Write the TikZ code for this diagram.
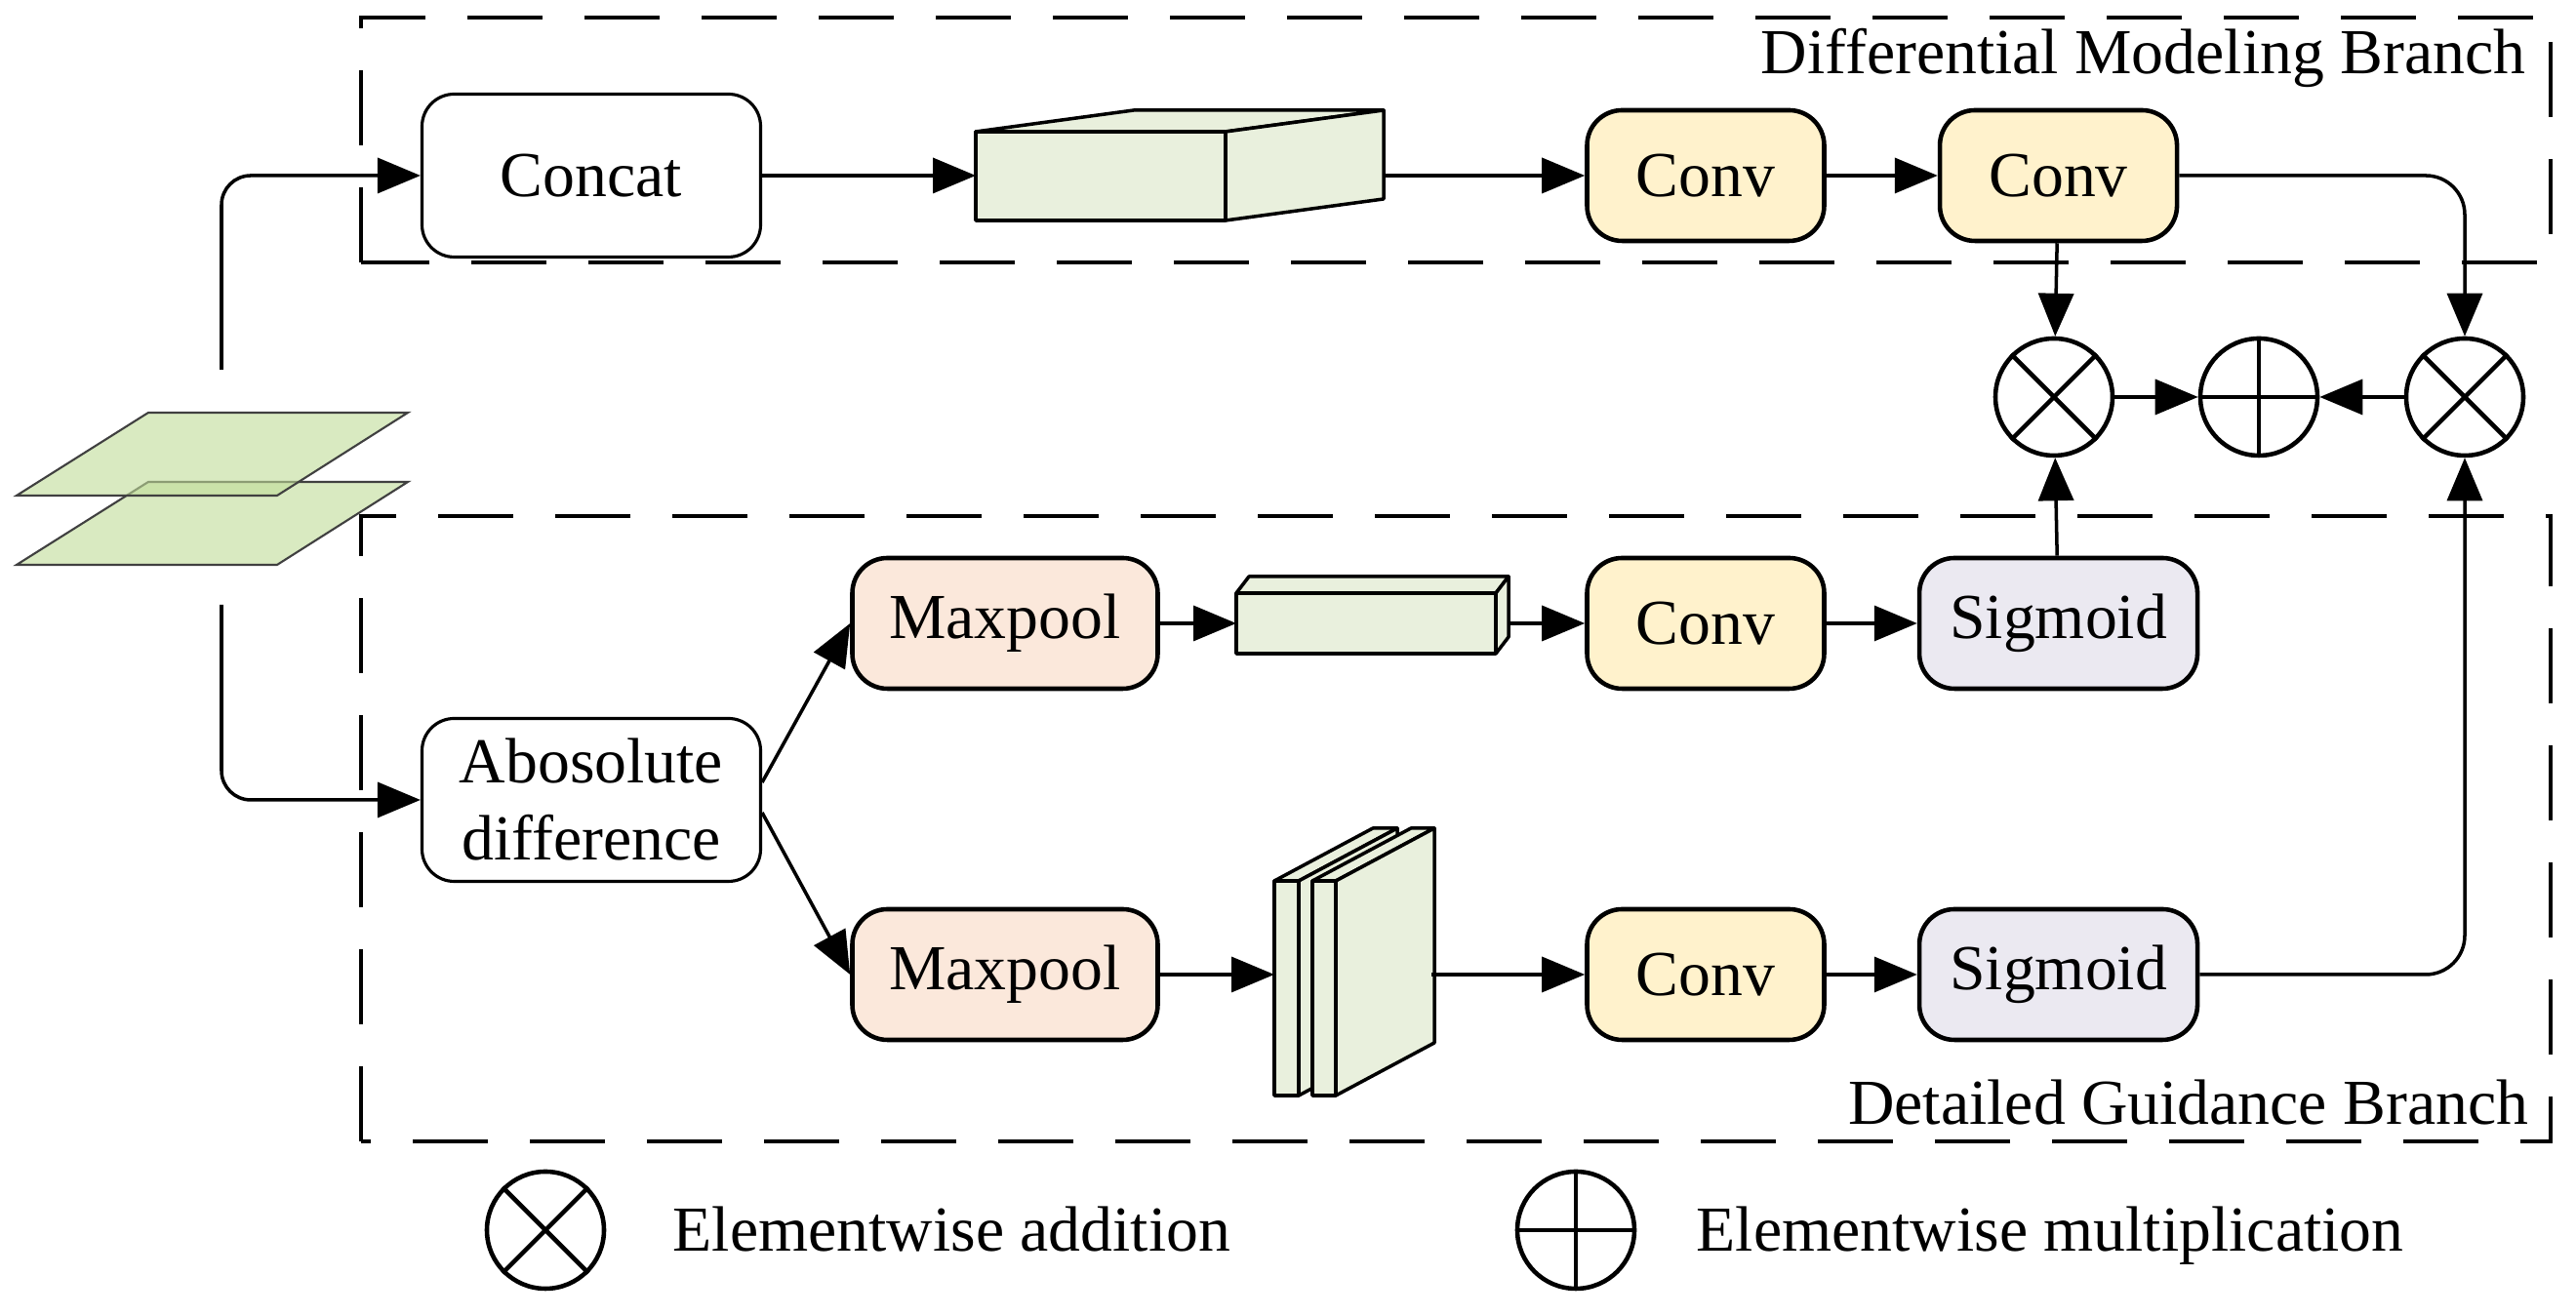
\documentclass[tikz,border=0pt]{standalone}
\usepackage{fontspec}
\setmainfont{Liberation Serif}
\usepackage{xcolor}
\usepackage{tikz}
\usetikzlibrary{arrows.meta, positioning, calc}

\definecolor{convyellow}{HTML}{FFF2CC}
\definecolor{poolorange}{HTML}{FBE8DB}
\definecolor{sigpurple}{HTML}{EBE9F1}
\definecolor{cubegreen}{HTML}{E9F0DD}
\definecolor{planegreen}{HTML}{C0DC98}

\begin{document}
\begin{tikzpicture}[
    >={Triangle[length=4.4mm, width=3.6mm]},
    every node/.style={font=\fontsize{18.7}{22.5}\selectfont},
    arr/.style={->, line width=1pt},
    lbl/.style={inner sep=0pt},
    blk/.style={draw, rounded corners=0.33cm, line width=0.9pt, align=center,
        inner sep=0pt, minimum width=3.47cm, minimum height=1.67cm},
    op/.style={draw, rounded corners=0.36cm, line width=1.3pt, inner sep=0pt,
        minimum height=1.34cm},
    conv/.style={op, fill=convyellow, minimum width=2.43cm},
    pool/.style={op, fill=poolorange, minimum width=3.13cm},
    sig/.style={op, fill=sigpurple, minimum width=2.85cm},
    ring/.style={draw, circle, line width=1.3pt, minimum size=1.2cm, inner sep=0pt},
    branch/.style={dash pattern=on 0.77cm off 0.43cm, line width=1.1pt},
    cube/.style={draw, fill=cubegreen, line width=1pt, line join=round},
]
    \useasboundingbox (0,0) rectangle (26.40,13.49);

    % ── Branch frames ─────────────────────────────
    \draw[branch] (3.70,10.80) rectangle (26.14,13.31);
    \draw[branch] (3.70,1.79) rectangle (26.14,8.20);
    \node[lbl, anchor=base east] (tdiff) at (25.89,12.73) {Differential Modeling Branch};
    \node[lbl, anchor=base east] (tdet) at (25.92,1.96) {Detailed Guidance Branch};

    % ── Input feature maps ────────────────────────
    \draw[draw=black!75, line width=0.6pt, fill=planegreen, fill opacity=0.6]
        (0.17,7.70) -- (2.84,7.70) -- (4.18,8.55) -- (1.52,8.55) -- cycle;
    \draw[draw=black!75, line width=0.6pt, fill=planegreen, fill opacity=0.6]
        (0.17,8.41) -- (2.84,8.41) -- (4.18,9.26) -- (1.52,9.26) -- cycle;
    \coordinate (splitT) at (2.27,9.70);
    \coordinate (splitB) at (2.27,7.29);

    % ── Differential modeling branch ─────────────
    \node[blk] (concat) at (6.06,11.69) {Concat};
    % feature cube after concat
    \draw[cube] (10.00,11.23) rectangle (12.56,12.14);
    \draw[cube] (10.00,12.14) -- (11.62,12.36) -- (14.18,12.36) -- (12.56,12.14) -- cycle;
    \draw[cube] (12.56,11.23) -- (14.18,11.45) -- (14.18,12.36) -- (12.56,12.14) -- cycle;
    \coordinate (cubeA-w) at (10.00,11.69);
    \coordinate (cubeA-e) at (14.18,11.69);

    \node[conv] (conv1) at (17.48,11.69) {Conv};
    \node[conv, right=1.14cm of conv1] (conv2) {Conv};

    % ── Fusion operators ─────────────────────────
    \node[ring] (mulL) at (21.05,9.42) {};
    \node[ring] (plus) at (23.15,9.42) {};
    \node[ring] (mulR) at (25.26,9.42) {};
    \draw[line width=1.3pt] (mulL.north west) -- (mulL.south east)
        (mulL.north east) -- (mulL.south west);
    \draw[line width=1.3pt] (mulR.north west) -- (mulR.south east)
        (mulR.north east) -- (mulR.south west);
    \draw[line width=1.3pt] (plus.north) -- (plus.south) (plus.west) -- (plus.east);

    % ── Detailed guidance branch ─────────────────
    \node[blk] (absdiff) at (6.06,5.29) {Abosolute\\difference};
    \node[pool] (pool1) at (10.30,7.10) {Maxpool};
    \node[pool] (pool2) at (10.30,3.50) {Maxpool};

    % flat bar after upper maxpool
    \draw[cube] (12.67,6.79) rectangle (15.33,7.41);
    \draw[cube] (12.67,7.41) -- (12.80,7.58) -- (15.46,7.58) -- (15.33,7.41) -- cycle;
    \draw[cube] (15.33,6.79) -- (15.46,6.96) -- (15.46,7.58) -- (15.33,7.41) -- cycle;
    \coordinate (barA-w) at (12.67,7.10);
    \coordinate (barA-e) at (15.46,7.10);

    % stacked plates after lower maxpool
    \draw[cube] (13.06,2.26) rectangle (13.31,4.46);
    \draw[cube] (13.06,4.46) -- (14.07,5.00) -- (14.32,5.00) -- (13.31,4.46) -- cycle;
    \draw[cube] (13.31,2.26) -- (14.32,2.80) -- (14.32,5.00) -- (13.31,4.46) -- cycle;
    \draw[cube] (13.45,2.26) rectangle (13.69,4.46);
    \draw[cube] (13.45,4.46) -- (14.46,5.00) -- (14.70,5.00) -- (13.69,4.46) -- cycle;
    \draw[cube] (13.69,2.26) -- (14.70,2.80) -- (14.70,5.00) -- (13.69,4.46) -- cycle;
    \coordinate (plates-w) at (13.06,3.50);
    \coordinate (plates-e) at (14.67,3.50);

    \node[conv] (conv3) at (17.48,7.10) {Conv};
    \node[sig, right=0.93cm of conv3] (sig1) {Sigmoid};
    \node[conv] (conv4) at (17.48,3.50) {Conv};
    \node[sig, right=0.93cm of conv4] (sig2) {Sigmoid};

    % ── Connections ──────────────────────────────
    \draw[arr, rounded corners=0.3cm] (splitT) |- (concat.west);
    \draw[arr, rounded corners=0.3cm] (splitB) |- (absdiff.west);
    \draw[arr] (concat.east) -- (cubeA-w);
    \draw[arr] (cubeA-e) -- (conv1.west);
    \draw[arr] (conv1) -- (conv2);
    \draw[arr] (conv2) -- (mulL);
    \draw[arr, rounded corners=0.4cm] (conv2.east) -| (mulR.north);
    \draw[arr] (mulL) -- (plus);
    \draw[arr] (mulR) -- (plus);

    \draw[arr] ([yshift=0.18cm]absdiff.east) -- (pool1.west);
    \draw[arr] ([yshift=-0.13cm]absdiff.east) -- (pool2.west);
    \draw[arr] (pool1) -- (barA-w);
    \draw[arr] (barA-e) -- (conv3.west);
    \draw[arr] (conv3) -- (sig1);
    \draw[arr] (sig1) -- (mulL);
    \draw[arr] (pool2) -- (plates-w);
    \draw[arr] (plates-e) -- (conv4.west);
    \draw[arr] (conv4) -- (sig2);
    \draw[arr, rounded corners=0.4cm] (sig2.east) -| (mulR.south);

    % ── Legend ────────────────────────────────────
    \node[ring] (legmul) at (5.59,0.88) {};
    \draw[line width=1.3pt] (legmul.north west) -- (legmul.south east)
        (legmul.north east) -- (legmul.south west);
    \node[lbl, anchor=base west] (legmultxt) at (6.89,0.66) {Elementwise addition};
    \node[ring] (legplus) at (16.15,0.88) {};
    \draw[line width=1.3pt] (legplus.north) -- (legplus.south)
        (legplus.west) -- (legplus.east);
    \node[lbl, anchor=base west] (legplustxt) at (17.38,0.66) {Elementwise multiplication};
\end{tikzpicture}
\end{document}
